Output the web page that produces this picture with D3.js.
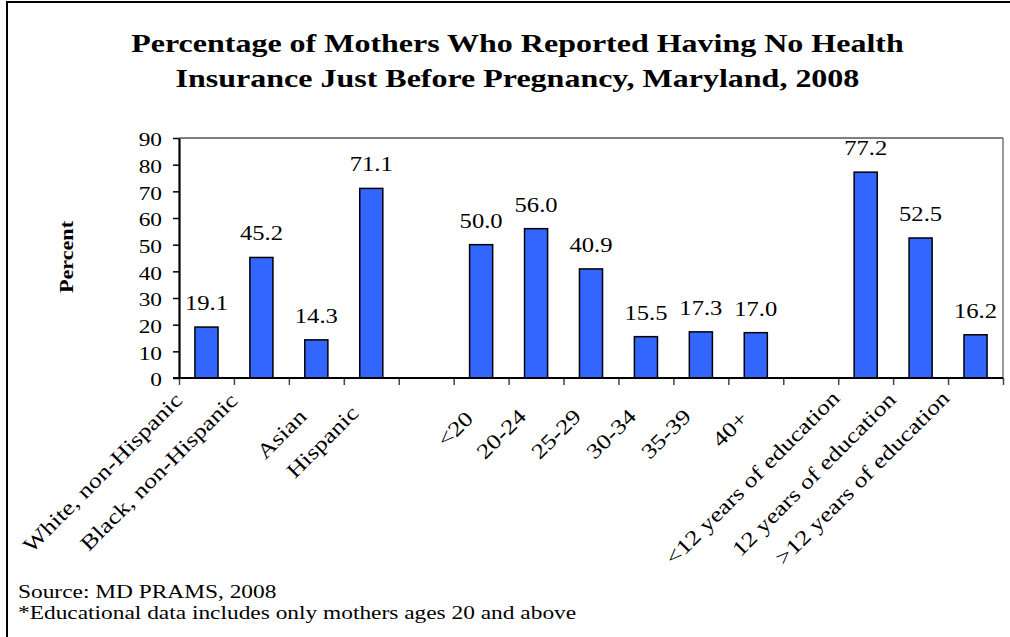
<!DOCTYPE html>
<html><head><meta charset="utf-8">
<script src="https://cdn.jsdelivr.net/npm/d3@7/dist/d3.min.js"></script>
<style>
body{margin:0;background:#fff}
text{font-family:"Liberation Serif","Times New Roman",serif;fill:#000}
</style></head>
<body><svg id="c" width="1010" height="637"></svg>
<script>
const categories = ["White, non-Hispanic","Black, non-Hispanic","Asian","Hispanic","",
  "<20","20-24","25-29","30-34","35-39","40+","",
  "<12 years of education","12 years of education",">12 years of education"];
const values = [19.1,45.2,14.3,71.1,null,50.0,56.0,40.9,15.5,17.3,17.0,null,77.2,52.5,16.2];
const valueLabels = ["19.1","45.2","14.3","71.1","","50.0","56.0","40.9","15.5","17.3","17.0","","77.2","52.5","16.2"];
const yTicks = [0,10,20,30,40,50,60,70,80,90];
const titleLines = ["Percentage of Mothers Who Reported Having No Health","Insurance Just Before Pregnancy, Maryland, 2008"];
const yLabel = "Percent";
const notes = ["Source: MD PRAMS, 2008","*Educational data includes only mothers ages 20 and above"];

const W = 1010, H = 637;
const L = 179, R = 1003, T = 138, B = 378;
const stretch = 1.23;
const svg = d3.select("#c");

function fit(sel){
  sel.each(function(){
    const l = this.getComputedTextLength();
    if (l > 0) { this.setAttribute("textLength", l*stretch); this.setAttribute("lengthAdjust","spacingAndGlyphs"); }
  });
}

// outer border
svg.append("rect").attr("x",7).attr("y",2).attr("width",1012).attr("height",645)
  .attr("fill","#fff").attr("stroke","#000").attr("stroke-width",2);

// title
svg.selectAll("text.title").data(titleLines).enter().append("text").attr("class","title")
  .attr("x",517.5).attr("y",(d,i)=>52+i*35).attr("text-anchor","middle")
  .style("font-size","26px").style("font-weight","bold").text(d=>d).call(fit);

const idx = d3.range(categories.length);
const x = d3.scaleBand().domain(idx).range([L,R]).paddingInner(0.58).paddingOuter(0.29);
const xb = d3.scaleLinear().domain([0,categories.length]).range([L,R]);
const y = d3.scaleLinear().domain([0,90]).range([B,T]);

// plot border top and right
svg.append("line").attr("x1",L).attr("x2",R).attr("y1",T).attr("y2",T).attr("stroke","#000").attr("stroke-width",1.2);
svg.append("line").attr("x1",R).attr("x2",R).attr("y1",T).attr("y2",B).attr("stroke","#555").attr("stroke-width",1.2);

// bars
svg.selectAll("rect.bar").data(idx.filter(i=>values[i]!=null)).enter().append("rect").attr("class","bar")
  .attr("x",i=>x(i)).attr("width",x.bandwidth())
  .attr("y",i=>y(values[i])).attr("height",i=>y(0)-y(values[i]))
  .attr("fill","#3366ff").attr("stroke","#000").attr("stroke-width",1.5);

// value labels
svg.selectAll("text.val").data(idx.filter(i=>values[i]!=null)).enter().append("text").attr("class","val")
  .attr("x",i=>x(i)+x.bandwidth()/2).attr("y",i=>y(values[i])-17)
  .attr("text-anchor","middle").style("font-size","20px").text(i=>valueLabels[i]).call(fit);

// x axis (boundary ticks)
const gx = svg.append("g").attr("transform",`translate(0,${B})`)
  .call(d3.axisBottom(xb).tickValues(d3.range(categories.length+1)).tickSize(7).tickFormat("").tickSizeOuter(0));
gx.select(".domain").remove();
gx.selectAll(".tick line").attr("stroke","#444").attr("stroke-width",1.5);

// y axis
const gy = svg.append("g").attr("transform",`translate(${L},0)`)
  .call(d3.axisLeft(y).tickValues(yTicks).tickSize(6).tickSizeOuter(0).tickPadding(11));
gy.select(".domain").attr("stroke","#000").attr("stroke-width",2.2);
gy.selectAll(".tick line").attr("stroke","#000").attr("stroke-width",1.5);
gy.selectAll(".tick text").style("font-size","19px").attr("font-family",null).attr("dy","0.42em");
gy.selectAll(".tick text").call(fit);

// baseline
svg.append("line").attr("x1",L-6).attr("x2",R).attr("y1",B).attr("y2",B).attr("stroke","#000").attr("stroke-width",2.2);

// x labels rotated
const xl = svg.selectAll("g.xl").data(idx.filter(i=>categories[i]!=="")).enter().append("g").attr("class","xl");
xl.append("text").attr("text-anchor","end").style("font-size","21px").text(i=>categories[i]).call(fit);
xl.attr("transform",function(i){
  const t = this.querySelector("text");
  const len = t.getComputedTextLength()*stretch;
  const cx = x(i)+x.bandwidth()/2;
  return `translate(${cx-3-0.075*len},${424-0.085*len}) rotate(-45)`;
});

// y label
svg.append("text").attr("transform","translate(73,257) rotate(-90)").attr("text-anchor","middle")
  .style("font-size","18px").style("font-weight","bold").text(yLabel).call(fit);

// notes
svg.selectAll("text.note").data(notes).enter().append("text").attr("class","note")
  .attr("x",18).attr("y",(d,i)=>598+i*21).style("font-size","19px").text(d=>d).call(fit);
</script></body></html>
